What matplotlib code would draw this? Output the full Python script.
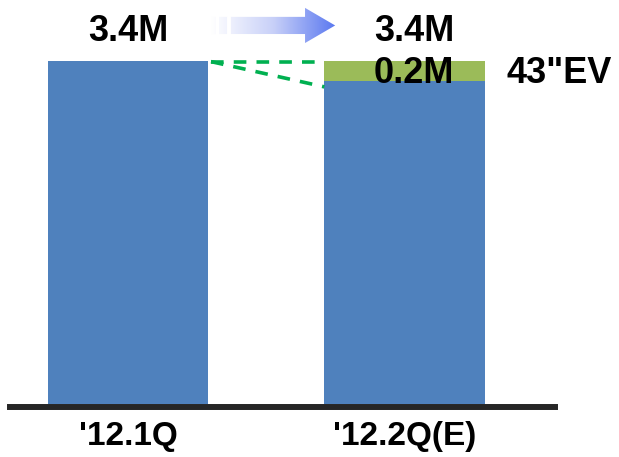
import numpy as np
import matplotlib.pyplot as plt
from matplotlib.path import Path
from matplotlib.patches import PathPatch
from matplotlib.colors import LinearSegmentedColormap

plt.rcParams['font.family'] = ['Liberation Sans', 'DejaVu Sans']
plt.rcParams['font.weight'] = 'bold'

# chart data
quarters = ["'12.1Q", "'12.2Q(E)"]
base_vals = [3.4, 3.2]
ev_vals = [0.0, 0.2]
total_labels = ['3.4M', '3.4M']
ev_label = '0.2M'
ev_name = '43"EV'

blue = '#4F81BD'
green = '#9BBB59'
width = 0.58

fig = plt.figure(figsize=(6.19, 4.57), dpi=100)
ax = fig.add_axes([10 / 619, 53 / 457, 545 / 619, 404 / 457])

x = np.arange(len(quarters))
ax.bar(x, base_vals, width=width, color=blue)
ax.bar(x, ev_vals, width=width, bottom=base_vals, color=green)

ax.set_xlim(-0.427, 1.544)
ax.set_ylim(0, 4.0)
for s in ax.spines.values():
    s.set_visible(False)
ax.set_yticks([])
ax.set_xticks(x, quarters)
ax.tick_params(axis='x', length=0, pad=12.5, labelsize=24)

# thick baseline
ax.axhline(-0.03, color='#262626', lw=4.3, clip_on=False)

totals = [b + e for b, e in zip(base_vals, ev_vals)]

# value labels
ax.text(x[0], totals[0] + 0.19, total_labels[0], ha='center', va='baseline', fontsize=26)
ax.text(x[1] + 0.034, totals[1] + 0.19, total_labels[1], ha='center', va='baseline', fontsize=26)
ax.text(x[1] + 0.034, totals[1] - 0.22, ev_label, ha='center', va='baseline', fontsize=26)
ax.text(x[1] + width / 2 + 0.08, totals[1] - 0.22, ev_name, ha='left', va='baseline', fontsize=26)

# green dashed guide lines
x0 = x[0] + width / 2 + 0.01
x1 = x[1] - width / 2
ax.plot([x0, x1], [totals[0] - 0.01, totals[1] - 0.01], color='#00B050', lw=2.6,
        dashes=(3.5, 2.8))
ax.plot([x0, x1], [totals[0] - 0.01, base_vals[1] - 0.06], color='#00B050', lw=2.6,
        dashes=(3.5, 2.8))

# gradient arrow between the two totals
yc = 3.748
sh = 0.085
hh = 0.174
xs, xh, xt = 0.372, 0.640, 0.749
verts = [(xs, yc - sh), (xh, yc - sh), (xh, yc - hh), (xt, yc), (xh, yc + hh),
         (xh, yc + sh), (xs, yc + sh), (xs, yc - sh)]
codes = [Path.MOVETO] + [Path.LINETO] * 6 + [Path.CLOSEPOLY]
parts = [Path(verts, codes)]
for a, b in [(0.300, 0.318), (0.329, 0.358)]:
    parts.append(Path([(a, yc - sh), (b, yc - sh), (b, yc + sh), (a, yc + sh), (a, yc - sh)],
                      [Path.MOVETO] + [Path.LINETO] * 3 + [Path.CLOSEPOLY]))
arrow_path = Path.make_compound_path(*parts)
patch = PathPatch(arrow_path, facecolor='none', edgecolor='none')
ax.add_patch(patch)
cmap = LinearSegmentedColormap.from_list('arr', ['#FFFFFF', '#C8D0F8', '#5A78F0'])
grad = np.linspace(0, 1, 256).reshape(1, -1)
img = ax.imshow(grad, cmap=cmap, extent=[0.300, xt, yc - hh, yc + hh], aspect='auto',
                zorder=3)
img.set_clip_path(patch)

fig.savefig('out.png', dpi=100)
